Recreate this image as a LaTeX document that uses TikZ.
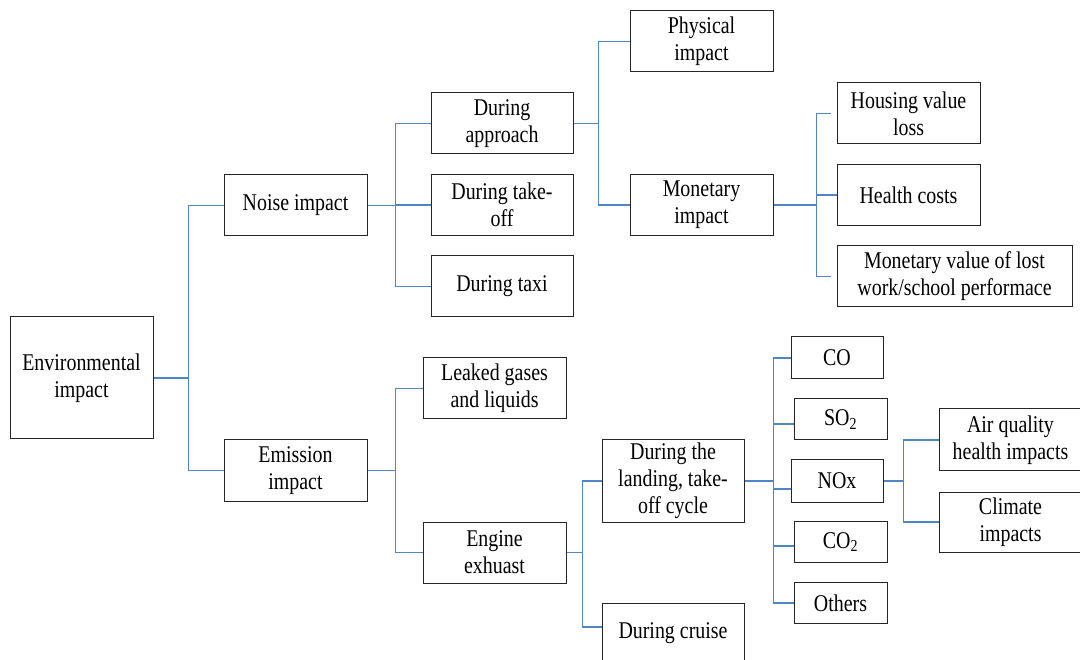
\documentclass[tikz,border=0pt]{standalone}
\usepackage{fontspec}
\setmainfont[FakeStretch=0.83]{Liberation Serif}
\usetikzlibrary{positioning,calc}
\definecolor{linkblue}{HTML}{4F86C6}

\begin{document}
\begin{tikzpicture}[x=1pt, y=-1pt,
    box/.style={draw=black!85, line width=1pt, fill=white, align=center, inner sep=0pt,
                minimum width=143pt, minimum height=61pt, font=\fontsize{24}{27}\selectfont},
    small/.style={box, minimum height=41pt},
    link/.style={draw=linkblue, line width=1.1pt}]
            \clip (0,0) rectangle (1080,660);

            % Root
            \node[box, minimum height=122pt] (env) at (81.5,378) {Environmental\\impact};

            % Noise branch
            \node[box] (noise) at (295.5,205.5) {Noise impact};
            \node[box, minimum width=142pt] (appr) at (502,123.5) {During\\approach};
            \node[box, minimum width=142pt] (takeoff) at (502,205) {During take-\\off};
            \node[box, minimum width=142pt] (taxi) at (502,286.5) {During taxi};
            \node[box] (phys) at (701.5,41.5) {Physical\\impact};
            \node[box] (monet) at (701.5,205) {Monetary\\impact};
            \node[box] (housing) at (908.5,113.5) {Housing value\\loss};
            \node[box] (health) at (908.5,195) {Health costs};
            \node[box, minimum width=235pt] (lostwork) at (954.5,276.5) {Monetary value of lost\\work/school performace};

            % Emission branch
            \node[box] (emis) at (295.5,470.5) {Emission\\impact};
            \node[box] (leak) at (494.5,388.5) {Leaked gases\\and liquids};
            \node[box] (engine) at (494.5,552.5) {Engine\\exhuast};
            \node[box, minimum width=142pt, minimum height=82pt] (lto) at (673,481) {During the\\landing, take-\\off cycle};
            \node[box, minimum width=142pt] (cruise) at (673,633.5) {During cruise};

            % Gases
            \node[small, minimum width=92pt, minimum height=42pt] (co) at (837,358) {CO};
            \node[small, minimum width=93pt] (so2) at (840.5,419.5) {SO\textsubscript{2}};
            \node[small, minimum width=92pt, minimum height=42pt] (nox) at (837,481) {NOx};
            \node[small, minimum width=93pt] (co2) at (840.5,542) {CO\textsubscript{2}};
            \node[small, minimum width=93pt] (others) at (840.5,603) {Others};
            \node[box, minimum height=62pt] (airq) at (1010.5,440) {Air quality\\health impacts};
            \node[box, minimum height=60pt] (climate) at (1010.5,522) {Climate\\impacts};

            % Connections
            \draw[link] (env.east) -- ++(35,0) coordinate (bEnv) |- (noise.west);
            \draw[link] (bEnv) |- (emis.west);

            \draw[link] (noise.east) -- ++(28,0) coordinate (bNoise);
            \foreach \n in {appr,takeoff,taxi}
                \draw[link] (bNoise) |- (\n.west);

            \draw[link] (appr.east) -- ++(25,0) coordinate (bAppr);
            \foreach \n in {phys,monet}
                \draw[link] (bAppr) |- (\n.west);

            \draw[link] (monet.east) -- ++(43,0) coordinate (bMonet);
            \draw[link, shorten >=6pt] (bMonet) |- (housing.west);
            \draw[link] (bMonet) |- (health.west);
            \draw[link, shorten >=6pt] (bMonet) |- (lostwork.west);

            \draw[link] (emis.east) -- ++(28,0) coordinate (bEmis);
            \foreach \n in {leak,engine}
                \draw[link] (bEmis) |- (\n.west);

            \draw[link] (engine.east) -- ++(16,0) coordinate (bEngine);
            \draw[link] (bEngine) |- (lto.west);
            \draw[link] (bEngine) |- ([yshift=6.5pt]cruise.west);

            \draw[link] (lto.east) -- ++(29,0) coordinate (bLto);
            \draw[link] (bLto) |- (co.west);
            \draw[link] (bLto) |- ([yshift=-4.5pt]so2.west);
            \draw[link] (bLto) |- ([yshift=-8pt]nox.west);
            \draw[link] (bLto) |- ([yshift=-4pt]co2.west);
            \draw[link] (bLto) |- (others.west);

            \draw[link] (nox.east) -- ++(20,0) coordinate (bNox);
            \foreach \n in {airq,climate}
                \draw[link] (bNox) |- (\n.west);
        \end{tikzpicture}
\end{document}
